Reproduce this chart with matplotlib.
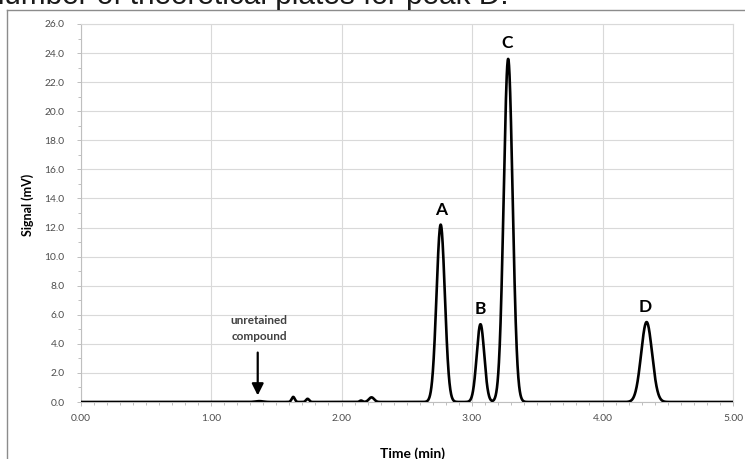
import numpy as np
import matplotlib
matplotlib.use("Agg")
import matplotlib.pyplot as plt
from matplotlib.ticker import MultipleLocator, FormatStrFormatter

# peak table (time in min, height in mV, sigma in min)
peak_times = [1.37, 1.63, 1.74, 2.15, 2.23, 2.76, 3.065, 3.277, 4.338]
peak_heights = [0.06, 0.35, 0.22, 0.10, 0.32, 12.2, 5.35, 23.6, 5.5]
peak_sigmas = [0.030, 0.012, 0.012, 0.011, 0.020, 0.032, 0.029, 0.034, 0.042]

peak_labels = ["A", "B", "C", "D"]
label_times = [2.76, 3.065, 3.265, 4.325]
label_heights = [13.2, 6.4, 24.7, 6.55]

x_ticks = [0, 1, 2, 3, 4, 5]
y_ticks = list(range(0, 27, 2))

FONT = "Lato"
GRID = "#d9d9d9"
TICK = "#4d4d4d"

t = np.linspace(0, 5, 4001)
signal = np.zeros_like(t)
for tr, h, s in zip(peak_times, peak_heights, peak_sigmas):
    signal += h * np.exp(-0.5 * ((t - tr) / s) ** 2)

fig = plt.figure(figsize=(7.45, 4.59), dpi=100)
ax = fig.add_axes([80.5 / 745, 1 - 402 / 459, (733 - 80.5) / 745, (402 - 24) / 459])

ax.plot(t, signal, color="black", lw=1.9, solid_capstyle="round", zorder=3)

ax.set_xlim(0, 5)
ax.set_ylim(0, 26)
ax.set_xticks(x_ticks)
ax.set_yticks(y_ticks)
ax.xaxis.set_minor_locator(MultipleLocator(0.1))
ax.yaxis.set_minor_locator(MultipleLocator(1))
ax.xaxis.set_major_formatter(FormatStrFormatter("%.2f"))
ax.yaxis.set_major_formatter(FormatStrFormatter("%.1f"))
ax.grid(True, which="major", color=GRID, lw=0.8)
ax.set_axisbelow(True)

for side in ["top", "right"]:
    ax.spines[side].set_color(GRID)
    ax.spines[side].set_linewidth(0.8)
for side in ["left", "bottom"]:
    ax.spines[side].set_color("#bfbfbf")
    ax.spines[side].set_linewidth(0.8)

ax.tick_params(which="major", direction="out", length=3, width=0.7, color="#bfbfbf",
               labelsize=7.4, labelcolor=TICK)
ax.tick_params(which="minor", direction="out", length=2.2, width=0.7, color="#bfbfbf")
ax.tick_params(axis="y", which="major", pad=8.5)
ax.tick_params(axis="x", which="major", pad=5.5)
for lbl in ax.get_xticklabels() + ax.get_yticklabels():
    lbl.set_family(FONT)

for name, x, y in zip(peak_labels, label_times, label_heights):
    ax.text(x, y, name, ha="center", va="center", fontsize=12.5,
            fontweight="bold", family=FONT, color="black")

ax.text(1.37, 5.05, "unretained\ncompound", ha="center", va="center", fontsize=8.5,
        multialignment="center", fontweight="bold", family=FONT, color="#404040",
        linespacing=1.55)
ax.annotate("", xy=(1.358, 0.45), xytext=(1.358, 3.4),
            arrowprops=dict(arrowstyle="-|>,head_width=0.35,head_length=0.7",
                            color="black", lw=1.6, shrinkA=0, shrinkB=0))

fig.text(28 / 745, 1 - 205 / 459, "Signal (mV)", rotation=90, ha="center", va="center",
         fontsize=9, fontweight="bold", family=FONT, color="black")
fig.text(412 / 745, 1 - 458 / 459, "Time (min)", ha="center", va="baseline",
         fontsize=10, fontweight="bold", family=FONT, color="black")

# cut-off line of the surrounding document text and the chart area border
fig.text(-12 / 745, 1 - 4.5 / 459, "number of theoretical plates for peak D.",
         ha="left", va="baseline", fontsize=21.4, family="Liberation Sans", color="#1a1a1a")
fig.add_artist(plt.Line2D([7 / 745, 1], [1 - 9.5 / 459, 1 - 9.5 / 459],
                          transform=fig.transFigure, color="#8c8c8c", lw=1.0))
fig.add_artist(plt.Line2D([7 / 745, 7 / 745], [0, 1 - 9.5 / 459],
                          transform=fig.transFigure, color="#8c8c8c", lw=1.0))

fig.savefig("out.png", dpi=100)
